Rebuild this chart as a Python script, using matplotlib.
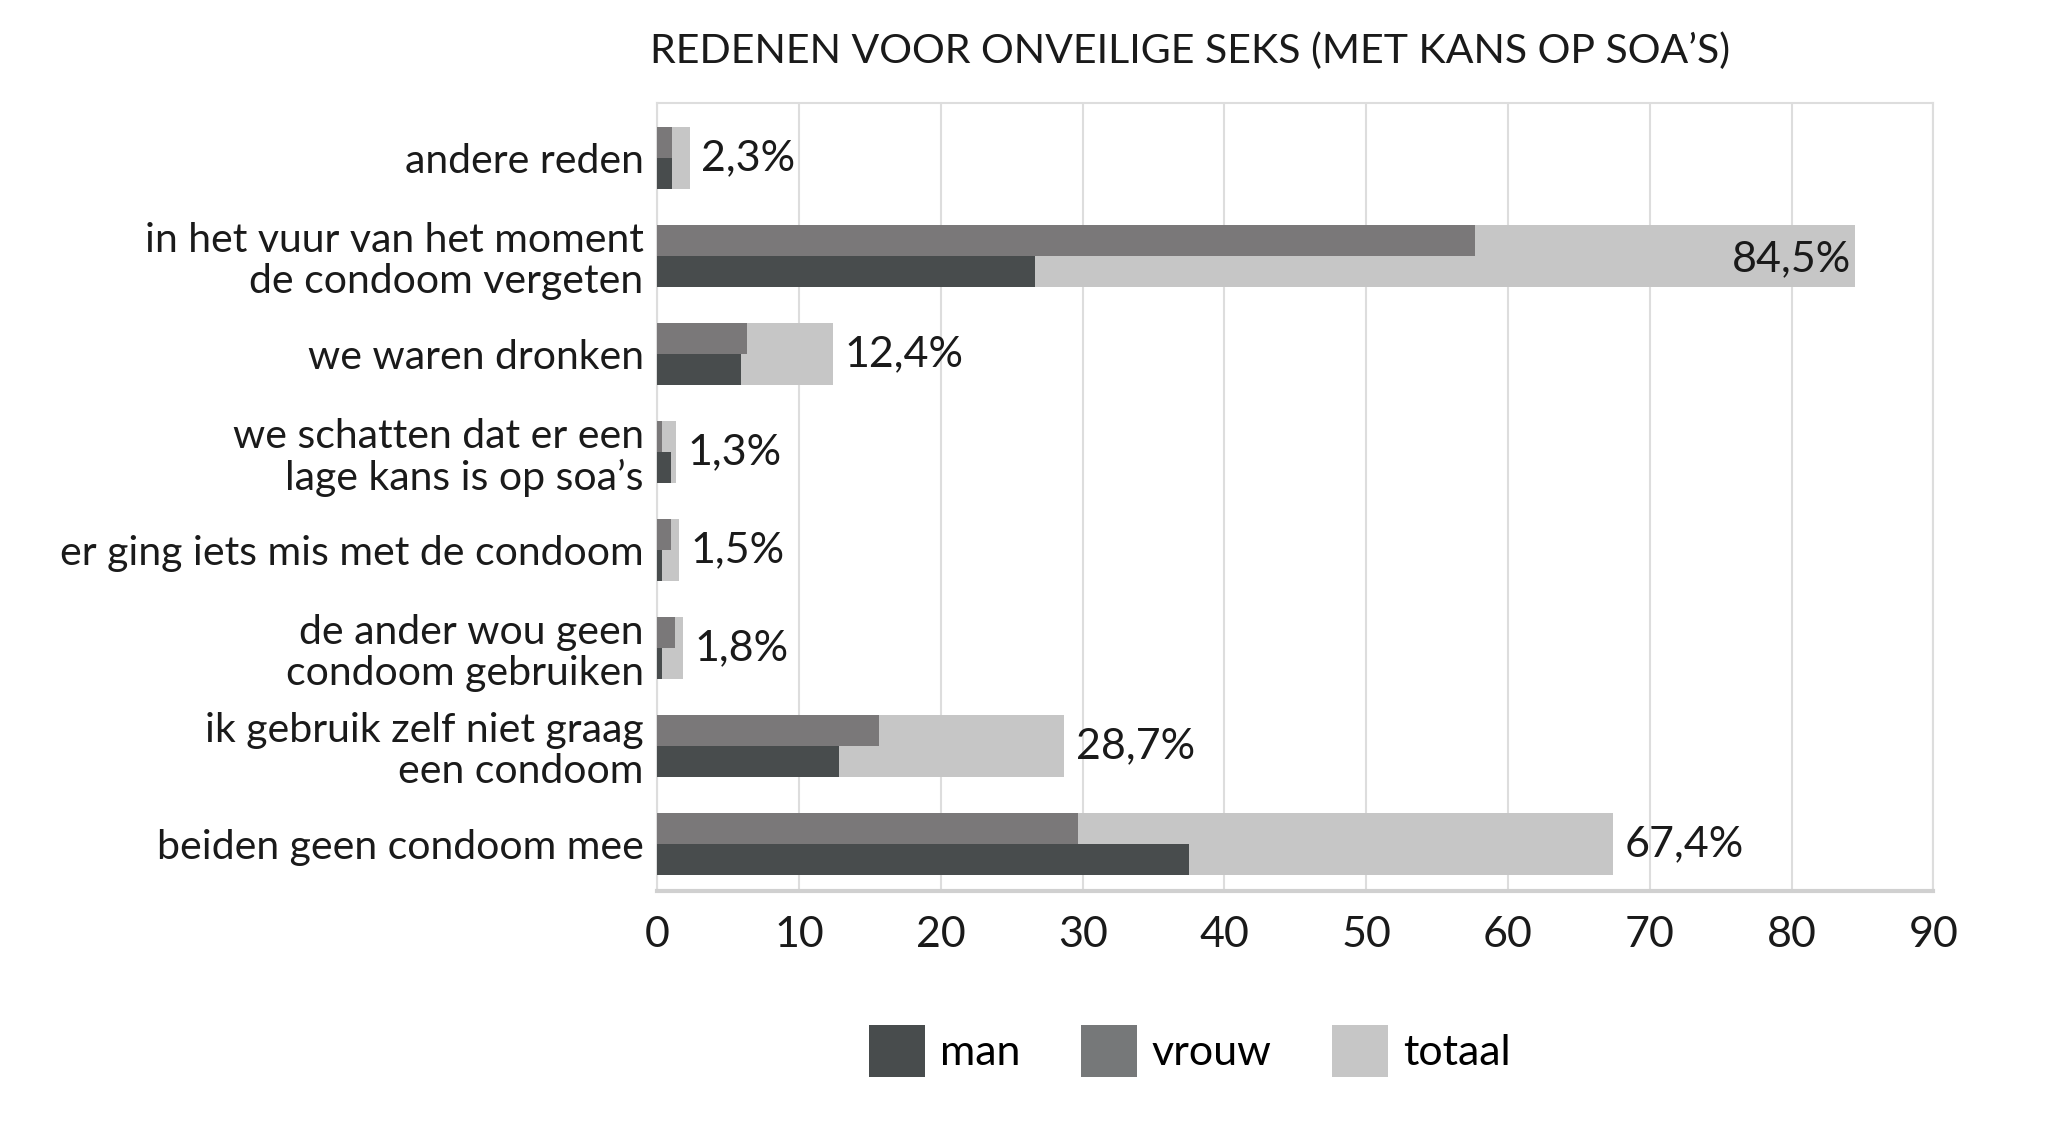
import matplotlib.pyplot as plt
import numpy as np
from matplotlib.patches import Patch

# categories top to bottom as in the chart
categories = ['andere reden',
              'in het vuur van het moment\nde condoom vergeten',
              'we waren dronken',
              'we schatten dat er een\nlage kans is op soa\u2019s',
              'er ging iets mis met de condoom',
              'de ander wou geen\ncondoom gebruiken',
              'ik gebruik zelf niet graag\neen condoom',
              'beiden geen condoom mee']
totaal = [2.3, 84.5, 12.4, 1.3, 1.5, 1.8, 28.7, 67.4]
vrouw = [1.0, 57.7, 6.3, 0.3, 0.95, 1.25, 15.6, 29.7]
man = [1.0, 26.6, 5.9, 0.95, 0.3, 0.3, 12.8, 37.5]
labels = ['2,3%', '84,5%', '12,4%', '1,3%', '1,5%', '1,8%', '28,7%', '67,4%']

c_man = '#484c4d'
c_vrouw = '#7a7879'
c_tot = '#c6c6c6'
txt = '#1a1a1a'

plt.rcParams['font.family'] = ['Lato', 'DejaVu Sans']

fig = plt.figure(figsize=(20.48, 11.45), dpi=100)
ax = fig.add_axes([0.321, 0.222, 0.623, 0.688])

n = len(categories)
y = np.arange(n)[::-1]
h = 0.63

ax.barh(y, totaal, height=h, color=c_tot, zorder=2)
ax.barh(y + h / 4, vrouw, height=h / 2, color=c_vrouw, zorder=3)
ax.barh(y - h / 4, man, height=h / 2, color=c_man, zorder=3)

for yi, t, l in zip(y, totaal, labels):
    if t > 80:
        ax.text(t - 0.3, yi - 0.03, l, ha='right', va='center', fontsize=31, color=txt, zorder=4)
    else:
        ax.text(t + 0.8, yi, l, ha='left', va='center', fontsize=31, color=txt, zorder=4)

ax.set_xlim(0, 90)
ax.set_ylim(-0.48, n - 1 + 0.56)
ax.set_xticks(range(0, 91, 10))
ax.set_yticks(y)
ax.set_yticklabels(categories, fontsize=29.5, color=txt, linespacing=1.12)
ax.tick_params(axis='x', labelsize=31, labelcolor=txt, length=0, pad=18)
ax.tick_params(axis='y', length=0, pad=10)
ax.grid(axis='x', color='#dddddd', linewidth=1.5, zorder=0)
for s in ['top', 'right', 'left']:
    ax.spines[s].set_color('#dddddd')
    ax.spines[s].set_linewidth(1.5)
ax.spines['bottom'].set_color('#d0d0d0')
ax.spines['bottom'].set_linewidth(3)

fig.text(0.581, 0.955, 'REDENEN VOOR ONVEILIGE SEKS (MET KANS OP SOA\u2019S)',
         ha='center', va='center', fontsize=29.5, color=txt)

handles = [Patch(facecolor=c_man, label='man'),
           Patch(facecolor='#767879', label='vrouw'),
           Patch(facecolor=c_tot, label='totaal')]
fig.legend(handles=handles, loc='center', bbox_to_anchor=(0.581, 0.082), ncol=3,
           frameon=False, fontsize=31, handlelength=1.3, handleheight=1.5,
           handletextpad=0.35, columnspacing=1.4)

plt.savefig('out.png', dpi=100)
